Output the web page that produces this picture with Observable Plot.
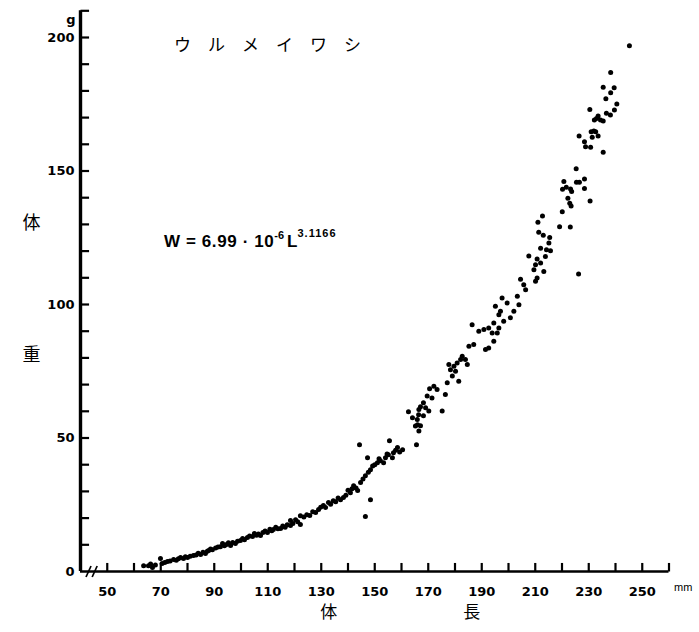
<!DOCTYPE html>
<html><head><meta charset="utf-8">
<script src="https://cdn.jsdelivr.net/npm/d3@7"></script>
<script src="https://cdn.jsdelivr.net/npm/@observablehq/plot@0.6"></script>
<style>body{margin:0;background:#fff;}</style>
</head><body><div id="chart"></div>
<script>
// body length (mm), body weight (g)
const fish65to90 = [[63.6,2.2],[65.4,2.2],[66.2,2.8],[66.9,1.5],[68.0,2.4],[69.9,4.9],[70.5,3.0],[71.5,3.4],[72.5,3.7],[73.5,3.9],[74.8,4.5],[75.8,4.2],[76.6,4.8],[77.4,5.2],[78.5,4.9],[79.2,5.5],[80.0,5.2],[81.0,5.7],[82.2,6.0],[83.2,6.2],[84.0,6.8],[84.9,6.4],[85.8,7.2],[86.7,6.7],[87.4,7.6],[87.9,7.9],[88.6,8.4],[89.3,8.1]];
const fish90to123 = [[90.5,8.8],[91.4,9.2],[92.3,9.3],[93.1,10.5],[93.8,9.6],[94.6,10.1],[95.3,10.8],[96.1,9.7],[96.9,10.9],[97.9,10.5],[98.7,11.3],[99.8,11.6],[100.6,12.4],[101.3,11.9],[102.4,12.7],[103.2,13.3],[104.3,13.1],[105.0,14.2],[105.8,13.6],[106.5,14.0],[107.3,13.5],[108.2,14.6],[109.0,15.2],[109.9,14.6],[110.8,15.8],[111.5,15.3],[112.1,15.7],[113.0,16.6],[113.8,16.0],[114.8,16.1],[115.6,17.0],[116.5,16.6],[117.3,17.5],[118.5,17.2],[118.5,19.1],[119.4,18.0],[120.4,19.4],[121.2,18.6],[122.2,17.6],[122.2,20.9]];
const fish123to161 = [[123.5,20.4],[124.6,21.3],[125.7,21.0],[126.8,22.4],[127.9,22.1],[129.0,23.2],[129.8,24.1],[130.8,24.7],[131.6,24.0],[132.7,25.8],[133.5,25.2],[134.5,26.5],[135.4,26.1],[136.3,27.5],[137.2,26.9],[138.3,27.7],[139.2,28.6],[140.0,30.4],[140.9,29.5],[141.5,31.0],[142.1,32.1],[143.0,31.3],[143.6,30.3],[144.3,47.5],[144.7,33.3],[145.6,34.6],[146.5,35.9],[146.5,20.6],[147.3,42.6],[147.6,37.2],[148.4,38.1],[148.4,26.9],[149.2,39.5],[150.0,40.0],[151.0,40.7],[151.6,42.2],[152.1,41.5],[153.3,40.7],[154.0,42.6],[154.6,44.0],[155.1,43.7],[155.5,49.0],[156.6,42.6],[157.0,44.5],[157.8,45.4],[158.5,46.4],[159.3,44.8],[160.4,45.6]];
const fish162to177 = [[162.6,59.8],[164.1,57.6],[165.2,54.5],[165.6,47.5],[165.9,56.9],[166.0,55.0],[166.4,58.7],[166.5,52.6],[166.5,60.7],[167.1,54.6],[167.1,61.7],[168.2,58.3],[168.2,63.2],[169.0,61.3],[169.6,65.7],[170.2,60.1],[170.5,68.4],[171.4,65.0],[172.1,69.4],[173.3,68.2],[175.2,60.1],[176.4,66.3],[177.1,70.7]];
const fish177to214 = [[177.7,77.5],[178.3,75.6],[179.0,73.2],[179.6,76.9],[180.2,75.0],[180.8,78.1],[181.4,71.3],[182.1,79.4],[182.7,80.6],[183.9,79.4],[184.6,77.5],[185.2,84.4],[186.4,92.4],[187.0,85.0],[188.9,90.0],[190.8,90.6],[191.4,83.1],[192.6,83.7],[192.6,91.2],[193.9,89.3],[194.5,86.2],[194.5,93.1],[195.1,99.3],[195.8,89.3],[196.4,91.2],[196.4,96.2],[197.0,97.5],[197.6,102.4],[198.2,93.7],[199.5,100.6],[200.7,95.0],[202.0,97.5],[203.3,103.1],[203.9,99.9],[204.5,109.5],[205.7,107.4],[206.4,105.5],[207.6,118.2],[209.5,113.0],[210.1,108.7],[210.1,114.9],[210.7,109.9],[210.7,117.0],[212.0,115.5],[213.2,112.4],[213.8,118.0]];
const fish211to246 = [[211.0,130.8],[211.3,127.1],[212.0,121.1],[212.7,133.1],[213.0,125.9],[214.2,120.5],[215.1,123.0],[215.4,125.1],[215.7,120.1],[219.1,129.1],[220.1,134.7],[220.2,143.2],[220.7,146.1],[221.6,143.9],[222.2,139.8],[222.9,137.9],[223.1,129.0],[223.2,143.3],[223.4,136.9],[223.6,142.3],[225.3,150.8],[225.4,145.8],[226.2,111.4],[226.4,163.1],[226.5,145.8],[228.4,147.0],[228.4,143.4],[228.4,161.0],[228.8,159.1],[230.4,173.0],[230.5,138.8],[230.7,158.9],[230.9,164.7],[231.3,162.6],[231.9,165.0],[232.1,169.1],[232.6,164.7],[232.9,169.7],[233.5,163.1],[233.5,170.6],[234.4,169.1],[235.4,157.0],[235.4,168.7],[235.4,181.4],[236.4,177.1],[236.6,171.6],[238.1,171.0],[238.2,179.3],[238.2,186.9],[239.5,181.2],[239.6,172.8],[240.5,175.1],[245.2,196.9]];

const xTicks = [50,60,70,80,90,100,110,120,130,140,150,160,170,180,190,200,210,220,230,240,250,260];
const xLabels = [50,70,90,110,130,150,170,190,210,230,250];
const yTicks = [10,20,30,40,50,60,70,80,90,100,110,120,130,140,150,160,170,180,190,200,210];
const yLabels = [0,50,100,150,200];
const axisBreak = [43.0, 45.3];

const title = "ウ　ル　メ　イ　ワ　シ";
const yTitle = ["体", "重"];
const xTitle = ["体", "長"];

const fish = [...fish65to90, ...fish90to123, ...fish123to161, ...fish162to177, ...fish177to214, ...fish211to246];

const slash = {draw(ctx) { ctx.moveTo(-2.5, 5.5); ctx.lineTo(2.5, -5.5); }};
const num = "'DejaVu Sans', 'Liberation Sans', Arial, sans-serif";
const formulaFont = "'Liberation Sans', Arial, sans-serif";
const cjk = "'Noto Sans CJK JP', sans-serif";
const tickLen = 3.2; // in axis units (≈ 8.5 px)

const plot = Plot.plot({
  width: 699, height: 632,
  marginLeft: 80, marginRight: 30.5, marginTop: 10.3, marginBottom: 61,
  x: {domain: [40, 260], axis: null},
  y: {domain: [0, 210], axis: null},
  style: {background: "white", color: "black", overflow: "visible"},
  marks: [
    // inward ticks
    Plot.link(xTicks, {x1: d => d, x2: d => d, y1: 0, y2: tickLen, stroke: "black", strokeWidth: 2.2}),
    Plot.link(yTicks, {y1: d => d, y2: d => d, x1: 40, x2: 40 + tickLen, stroke: "black", strokeWidth: 2.2}),
    // axis lines
    Plot.ruleY([0], {strokeWidth: 2.6}),
    Plot.ruleX([40], {y1: 0, y2: 210, strokeWidth: 3.4}),
    // axis break
    Plot.dot(axisBreak, {x: d => d, y: 0, symbol: slash, fill: "none", stroke: "black", strokeWidth: 1.7}),
    // tick labels
    Plot.text(yLabels, {x: 40, y: d => d, text: d => String(d), textAnchor: "end", dx: -6, fontWeight: "bold", fontSize: 13, fontFamily: num}),
    Plot.text(["g"], {frameAnchor: "top-left", text: d => d, textAnchor: "end", dx: -5, dy: 4, fontWeight: "bold", fontSize: 13, fontFamily: num}),
    Plot.text(xLabels, {x: d => d, y: 0, text: d => String(d), dy: 20, fontWeight: "bold", fontSize: 13, fontFamily: num}),
    Plot.text(["mm"], {frameAnchor: "bottom-right", text: d => d, textAnchor: "start", dx: 5, dy: 19, fontSize: 11, fontFamily: formulaFont}),
    // titles
    Plot.text([title], {frameAnchor: "top-left", text: d => d, textAnchor: "start", dx: 93.5, dy: 28, fontSize: 17, fontFamily: cjk}),
    Plot.text([yTitle[0]], {frameAnchor: "left", text: d => d, dx: -58, dy: -68, fontSize: 18, fontFamily: cjk}),
    Plot.text([yTitle[1]], {frameAnchor: "left", text: d => d, dx: -58, dy: 64, fontSize: 18, fontFamily: cjk}),
    Plot.text([xTitle[0]], {frameAnchor: "bottom", text: d => d, dx: -46, dy: 46, fontSize: 17, fontFamily: cjk}),
    Plot.text([xTitle[1]], {frameAnchor: "bottom", text: d => d, dx: 97, dy: 46, fontSize: 17, fontFamily: cjk}),
    // data
    Plot.dot(fish, {x: d => d[0], y: d => d[1], r: 2.5, fill: "black", stroke: "none"})
  ]
});

// regression formula with superscripts
const svg = d3.select(plot);
const f = svg.append("text")
  .attr("x", 164).attr("y", 247).attr("text-anchor", "start")
  .attr("font-family", formulaFont).attr("font-weight", "bold").attr("font-size", 17).attr("fill", "black");
f.append("tspan").attr("letter-spacing", 0.6).text("W = 6.99 · 10");
f.append("tspan").attr("font-size", 11).attr("dy", -8).text("-6");
f.append("tspan").attr("font-size", 17).attr("dy", 8).attr("dx", 3).text("L");
f.append("tspan").attr("font-size", 11).attr("letter-spacing", 1).attr("dy", -10).text("3.1166");

document.getElementById("chart").appendChild(plot);
</script>
</body></html>
